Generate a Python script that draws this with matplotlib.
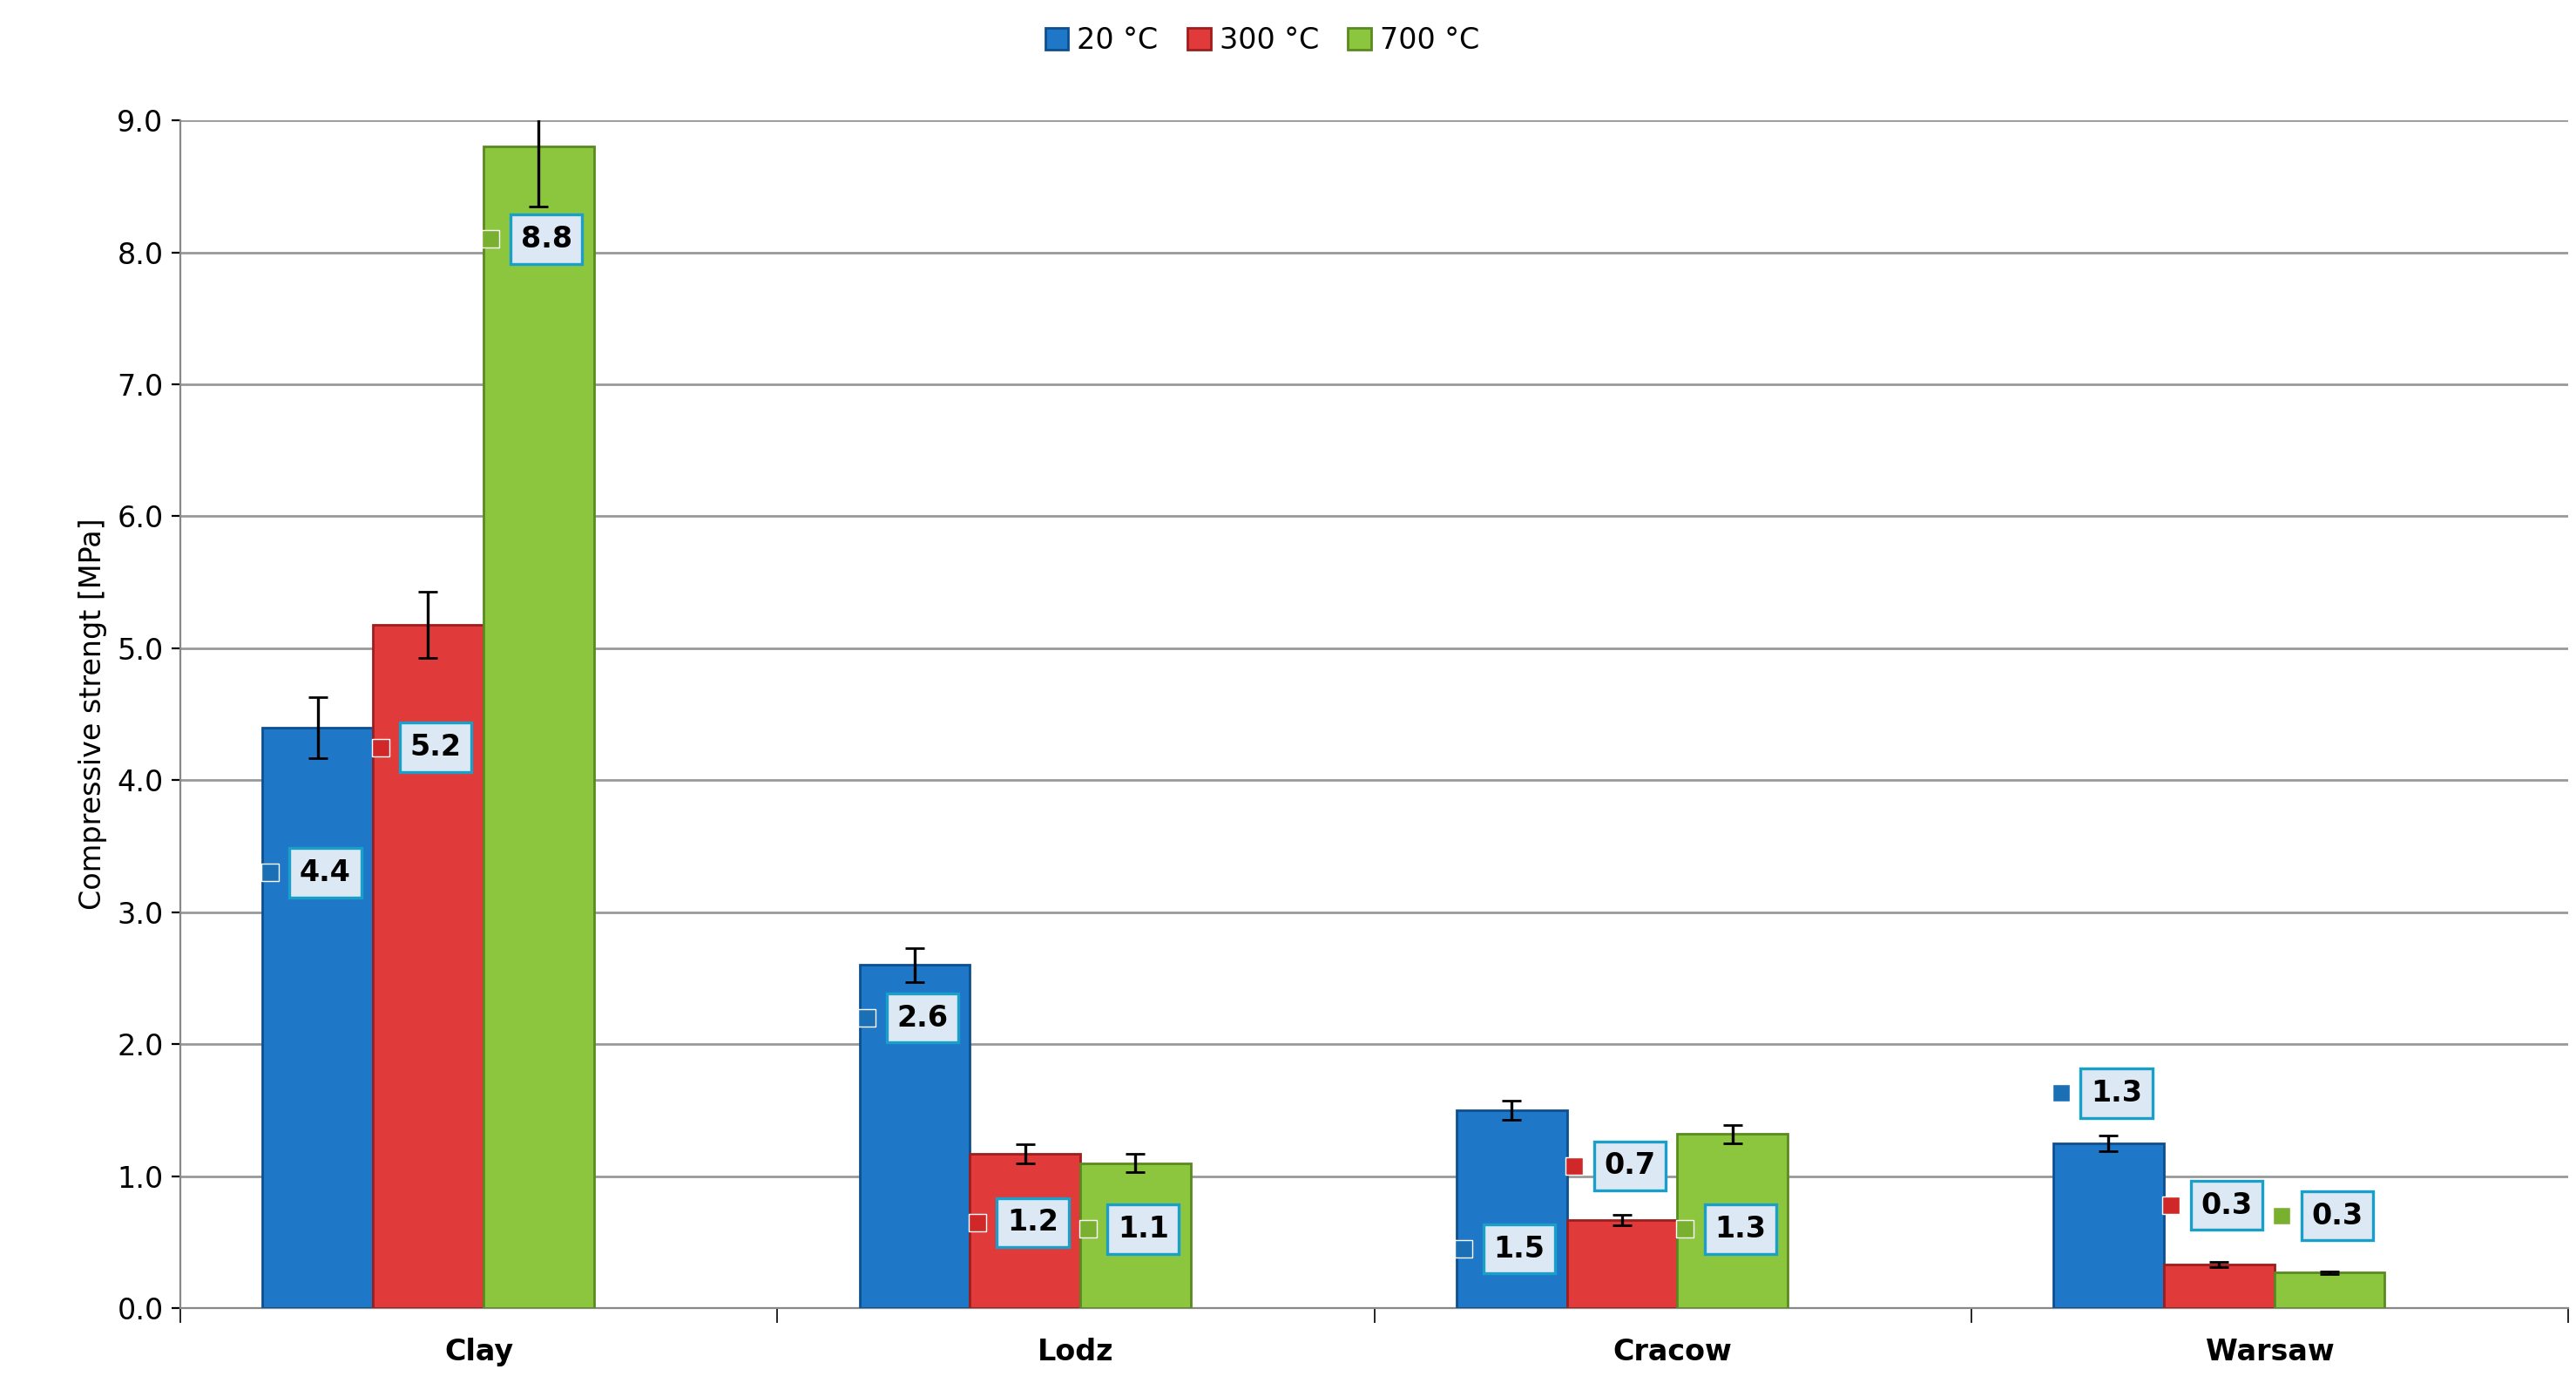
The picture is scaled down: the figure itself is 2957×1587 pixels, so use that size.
import matplotlib
matplotlib.use("Agg")
import matplotlib.pyplot as plt
import numpy as np

categories = ["Clay", "Lodz", "Cracow", "Warsaw"]
series = ["20 °C", "300 °C", "700 °C"]
v20 = [4.4, 2.6, 1.5, 1.25]
v300 = [5.18, 1.17, 0.67, 0.33]
v700 = [8.8, 1.1, 1.32, 0.27]
e20 = [0.23, 0.13, 0.07, 0.06]
e300 = [0.25, 0.07, 0.04, 0.02]
e700 = [0.45, 0.07, 0.07, 0.01]
lab20 = ["4.4", "2.6", "1.5", "1.3"]
lab300 = ["5.2", "1.2", "0.7", "0.3"]
lab700 = ["8.8", "1.1", "1.3", "0.3"]
# label anchor heights (layout)
ly20 = [3.3, 2.2, 0.45, 1.63]
ly300 = [4.25, 0.65, 1.08, 0.78]
ly700 = [8.1, 0.6, 0.6, 0.7]

colors = ["#1f77c8", "#e03a3a", "#8cc63f"]
edges = ["#0d4f8f", "#9e1d1d", "#5a8a20"]
mark = ["#1a6fb5", "#d02828", "#7ab030"]

fig = plt.figure(figsize=(14.785, 7.935), dpi=200)
ax = fig.add_axes([0.07, 0.054, 0.927, 0.859])
w = 0.185
x = np.arange(len(categories)) + 0.5
vals = [v20, v300, v700]
errs = [e20, e300, e700]
labs = [lab20, lab300, lab700]
lys = [ly20, ly300, ly700]
for i in range(3):
    xs = np.arange(len(categories)) + 0.23 + i * w
    ax.bar(xs, vals[i], w, color=colors[i], edgecolor=edges[i], linewidth=1, label=series[i], zorder=3)
    ax.errorbar(xs, vals[i], yerr=errs[i], fmt="none", ecolor="black", elinewidth=1.2, capsize=4, zorder=4)
    for j in range(len(categories)):
        xl = xs[j] - 0.03
        ax.plot(xl - 0.05, lys[i][j], marker="s", ms=7, color=mark[i], mec="white", mew=0.5, zorder=5)
        ax.text(xl, lys[i][j], labs[i][j], ha="left", va="center", fontsize=12, fontweight="bold",
                zorder=6, bbox=dict(boxstyle="square,pad=0.35", fc="#dde8f5", ec="#1aa0c8", lw=1.2))

ax.set_xlim(0, 4)
ax.set_ylim(0, 9)
ax.set_yticks(np.arange(0, 9.01, 1))
ax.set_yticklabels([f"{t:.1f}" for t in np.arange(0, 9.01, 1)], fontsize=12)
ax.set_xticks(x)
ax.set_xticklabels(categories, fontsize=12, fontweight="bold")
ax.set_xticks([0, 1, 2, 3, 4], minor=True)
ax.tick_params(axis="x", which="major", length=0, pad=12)
ax.tick_params(axis="x", which="minor", length=6)
ax.grid(axis="y", color="#999999", lw=1, zorder=0)
for s in ["top", "right"]:
    ax.spines[s].set_visible(False)
ax.spines["left"].set_color("#888888")
ax.spines["bottom"].set_color("#888888")
ax.set_ylabel("Compressive strengt [MPa]", fontsize=12)
fig.legend(loc="upper center", ncol=3, frameon=False, fontsize=12, bbox_to_anchor=(0.49, 1.0),
           handlelength=0.8, handleheight=0.8, columnspacing=1.0, handletextpad=0.3)
fig.savefig("out.png", dpi=200)
